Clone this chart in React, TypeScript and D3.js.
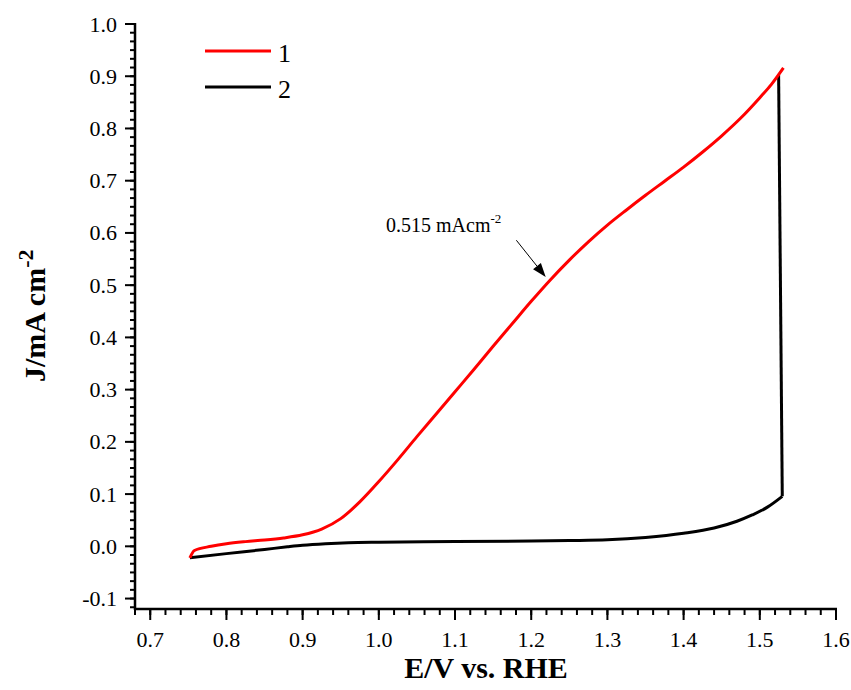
import React from "react";
import * as d3 from "d3";

const redX = [0.752, 0.758, 0.78, 0.80, 0.825, 0.85, 0.875, 0.90, 0.925, 0.95, 0.975, 1.0, 1.025, 1.05, 1.075, 1.10, 1.125, 1.15, 1.175, 1.20, 1.225, 1.25, 1.275, 1.30, 1.325, 1.35, 1.375, 1.40, 1.425, 1.45, 1.475, 1.50, 1.515, 1.531];
const redY = [-0.022, -0.008, 0.0, 0.005, 0.009, 0.012, 0.016, 0.022, 0.033, 0.053, 0.085, 0.124, 0.166, 0.210, 0.253, 0.296, 0.339, 0.383, 0.426, 0.469, 0.510, 0.548, 0.583, 0.615, 0.644, 0.672, 0.699, 0.726, 0.755, 0.786, 0.820, 0.859, 0.884, 0.916];

const blackVertX = [1.5247, 1.5295];
const blackVertY = [0.9024, 0.0957];
const blackX = [0.752, 0.80, 0.85, 0.88, 0.90, 0.93, 0.96, 1.0, 1.1, 1.2, 1.25, 1.30, 1.35, 1.40, 1.44, 1.47, 1.49, 1.51, 1.5295];
const blackY = [-0.022, -0.014, -0.006, -0.001, 0.002, 0.005, 0.007, 0.008, 0.009, 0.010, 0.011, 0.0125, 0.017, 0.025, 0.035, 0.048, 0.060, 0.075, 0.0957];

const xMajor = [0.7, 0.8, 0.9, 1.0, 1.1, 1.2, 1.3, 1.4, 1.5, 1.6];
const yMajor = [-0.1, 0.0, 0.1, 0.2, 0.3, 0.4, 0.5, 0.6, 0.7, 0.8, 0.9, 1.0];
const legendLabels = ["1", "2"];
const annotationText = "0.515 mAcm";
const annotationTip = [1.219, 0.5155];
const annotationTail = [1.1805, 0.586];

export default function App() {
  const W = 851, H = 690;
  const x = d3.scaleLinear().domain([0.68, 1.6]).range([135, 836]);
  const y = d3.scaleLinear().domain([-0.12, 1.0]).range([609, 24]);

  const xMinor: number[] = [];
  for (let i = 34; i <= 80; i++) xMinor.push(i / 50);
  const yMinor: number[] = [];
  for (let i = -7; i <= 60; i++) {
    const v = i / 60;
    if (v >= -0.12 - 1e-9 && v <= 1.0 + 1e-9) yMinor.push(v);
  }

  const smooth = d3.line<[number, number]>().x(d => x(d[0])).y(d => y(d[1])).curve(d3.curveMonotoneX);
  const lin = d3.line<[number, number]>().x(d => x(d[0])).y(d => y(d[1]));
  const redPts = redX.map((v, i) => [v, redY[i]] as [number, number]);
  const blkPts = blackX.map((v, i) => [v, blackY[i]] as [number, number]);
  const vertPts = blackVertX.map((v, i) => [v, blackVertY[i]] as [number, number]);

  const font = "'Liberation Serif', 'Times New Roman', serif";
  const tx = x(annotationTip[0]), ty = y(annotationTip[1]);
  const sx = x(annotationTail[0]), sy = y(annotationTail[1]);
  const ang = Math.atan2(ty - sy, tx - sx);
  const hl = 14, hw = 5;
  const bx = tx - hl * Math.cos(ang), by = ty - hl * Math.sin(ang);
  const head = `M${tx},${ty} L${bx + hw * Math.sin(ang)},${by - hw * Math.cos(ang)} L${bx - hw * Math.sin(ang)},${by + hw * Math.cos(ang)} Z`;

  return (
    <svg width={W} height={H} style={{ position: "absolute", left: 0, top: 0, background: "#fff" }} fontFamily={font}>
      {/* curves */}
      <path d={smooth(blkPts) || ""} fill="none" stroke="#000" strokeWidth={3} strokeLinejoin="round" />
      <path d={lin(vertPts) || ""} fill="none" stroke="#000" strokeWidth={3} />
      <path d={smooth(redPts) || ""} fill="none" stroke="#ff0000" strokeWidth={3} strokeLinejoin="round" />

      {/* axes */}
      <line x1={135} x2={135} y1={23} y2={610} stroke="#000" strokeWidth={2.5} />
      <line x1={134} x2={837} y1={609} y2={609} stroke="#000" strokeWidth={2.5} />
      {yMinor.map((v, i) => (
        <line key={"ym" + i} x1={135} x2={130} y1={y(v)} y2={y(v)} stroke="#000" strokeWidth={2} />
      ))}
      {yMajor.map((v, i) => (
        <g key={"yM" + i}>
          <line x1={135} x2={125} y1={y(v)} y2={y(v)} stroke="#000" strokeWidth={2} />
          <text x={117} y={y(v) + 7.5} textAnchor="end" fontSize={22}>{v.toFixed(1)}</text>
        </g>
      ))}
      {xMinor.map((v, i) => (
        <line key={"xm" + i} x1={x(v)} x2={x(v)} y1={609} y2={615} stroke="#000" strokeWidth={2} />
      ))}
      {xMajor.map((v, i) => (
        <g key={"xM" + i}>
          <line x1={x(v)} x2={x(v)} y1={609} y2={620} stroke="#000" strokeWidth={2} />
          <text x={x(v)} y={647} textAnchor="middle" fontSize={22}>{v.toFixed(1)}</text>
        </g>
      ))}

      {/* axis titles */}
      <text x={486} y={678} textAnchor="middle" fontSize={30} fontWeight="bold">E/V vs. RHE</text>
      <text transform="translate(45,382) rotate(-90)" fontSize={30} fontWeight="bold">
        J/mA cm<tspan dy={-12} fontSize={22}>-2</tspan>
      </text>

      {/* legend */}
      <line x1={205} x2={271} y1={51} y2={51} stroke="#ff0000" strokeWidth={3} />
      <text x={278} y={62} fontSize={26}>{legendLabels[0]}</text>
      <line x1={205} x2={271} y1={87} y2={87} stroke="#000" strokeWidth={3} />
      <text x={278} y={98} fontSize={26}>{legendLabels[1]}</text>

      {/* annotation */}
      <text x={386} y={232} fontSize={20}>
        {annotationText}<tspan dy={-9} fontSize={13}>-2</tspan>
      </text>
      <line x1={sx} y1={sy} x2={bx} y2={by} stroke="#000" strokeWidth={1} />
      <path d={head} fill="#000" />
    </svg>
  );
}
